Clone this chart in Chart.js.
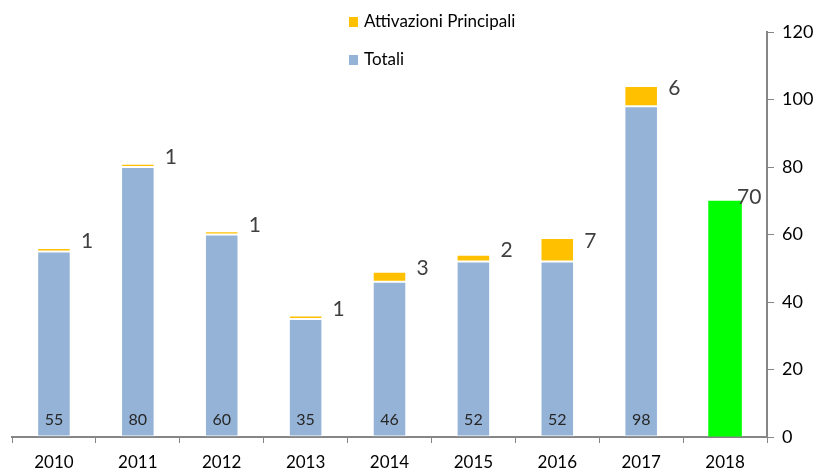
<!DOCTYPE html>
<html>
<head>
<meta charset="utf-8">
<script src="https://cdn.jsdelivr.net/npm/chart.js@4/dist/chart.umd.min.js"></script>
<style>
  html, body { margin: 0; padding: 0; background: #fff; }
  #wrap { position: relative; width: 816px; height: 475px; }
  #legend { position: absolute; left: 349px; top: 11px; font-family: Lato, sans-serif; font-size: 17px; color: #000; }
  .item { position: relative; height: 38px; line-height: 20px; }
  .sw { position: absolute; left: 0; top: 6px; width: 9px; height: 10px; }
  .tx { position: absolute; left: 15px; top: 0; white-space: nowrap; }
</style>
</head>
<body>
<div id="wrap">
  <canvas id="c" width="816" height="475"></canvas>
  <div id="legend"></div>
</div>
<script>
const categories = ['2010','2011','2012','2013','2014','2015','2016','2017','2018'];
const totali = [55, 80, 60, 35, 46, 52, 52, 98, null];
const attivazioni = [1, 1, 1, 1, 3, 2, 7, 6, null];
const anno2018 = [null, null, null, null, null, null, null, null, 70];
const yTicks = [0, 20, 40, 60, 80, 100, 120];

const AXIS = '#868686';
const FONT = 'Lato, sans-serif';

const labelPlugin = {
  id: 'valueLabels',
  afterDatasetsDraw(chart) {
    const ctx = chart.ctx;
    ctx.save();
    chart.data.datasets.forEach((ds, di) => {
      const meta = chart.getDatasetMeta(di);
      meta.data.forEach((el, i) => {
        const v = ds.data[i];
        if (v === null || v === undefined) return;
        const p = el.getProps(['x', 'y', 'base', 'width'], true);
        if (ds.labelMode === 'bottom') {
          ctx.font = '16px ' + FONT;
          ctx.fillStyle = '#262626';
          ctx.textAlign = 'center';
          ctx.textBaseline = 'middle';
          ctx.fillText(String(v), p.x, p.base - 17);
        } else if (ds.labelMode === 'side') {
          ctx.font = '21px ' + FONT;
          ctx.fillStyle = '#404040';
          ctx.textAlign = 'left';
          ctx.textBaseline = 'middle';
          ctx.fillText(String(v), p.x + 27, (p.y + p.base) / 2 - 8);
        } else if (ds.labelMode === 'top') {
          ctx.font = '21px ' + FONT;
          ctx.fillStyle = '#404040';
          ctx.textAlign = 'left';
          ctx.textBaseline = 'middle';
          ctx.fillText(String(v), p.x + 12, p.y - 4);
        }
      });
    });
    ctx.restore();
  }
};

const chart = new Chart(document.getElementById('c'), {
  type: 'bar',
  data: {
    labels: categories,
    datasets: [
      { label: 'Totali', data: totali, backgroundColor: '#95B3D7', borderColor: 'rgba(255,255,255,0.45)', borderWidth: 1, borderSkipped: false, labelMode: 'bottom', stack: 's', showInLegend: true, legendOrder: 2 },
      { label: 'Attivazioni Principali', data: attivazioni, backgroundColor: '#FFC000', borderColor: 'rgba(255,255,255,0.45)', borderWidth: 1, borderSkipped: false, labelMode: 'side', stack: 's', showInLegend: true, legendOrder: 1 },
      { label: '2018', data: anno2018, backgroundColor: '#00FF00', borderWidth: 0, labelMode: 'top', stack: 's', showInLegend: false }
    ]
  },
  options: {
    responsive: false,
    animation: false,
    devicePixelRatio: 1,
    barPercentage: 0.4,
    categoryPercentage: 1.0,
    layout: { padding: { left: 12, top: 32, right: 0, bottom: 0 } },
    plugins: { legend: { display: false }, tooltip: { enabled: false } },
    scales: {
      x: {
        stacked: true,
        offset: true,
        grid: { offset: true, drawOnChartArea: false, drawTicks: true, tickLength: 6, color: AXIS, lineWidth: 1 },
        border: { display: true, color: AXIS, width: 2 },
        ticks: { font: { family: FONT, size: 17 }, color: '#000', padding: 9, maxRotation: 0 },
        afterFit(s) { s.height = 38; }
      },
      y: {
        stacked: true,
        position: 'right',
        min: 0,
        max: 120,
        afterBuildTicks(s) { s.ticks = yTicks.map(v => ({ value: v })); },
        grid: { drawOnChartArea: false, drawTicks: true, tickLength: 7, color: AXIS, lineWidth: 1 },
        border: { display: true, color: AXIS, width: 2 },
        ticks: { font: { family: FONT, size: 18 }, color: '#000', padding: 8 },
        afterFit(s) { s.width = 49; }
      }
    }
  },
  plugins: [labelPlugin]
});

// HTML legend built from dataset definitions
const legend = document.getElementById('legend');
chart.data.datasets
  .filter(d => d.showInLegend)
  .sort((a, b) => a.legendOrder - b.legendOrder)
  .forEach(d => {
    const item = document.createElement('div');
    item.className = 'item';
    const sw = document.createElement('span');
    sw.className = 'sw';
    sw.style.background = d.backgroundColor;
    const tx = document.createElement('span');
    tx.className = 'tx';
    tx.textContent = d.label;
    item.appendChild(sw);
    item.appendChild(tx);
    legend.appendChild(item);
  });
</script>
</body>
</html>
